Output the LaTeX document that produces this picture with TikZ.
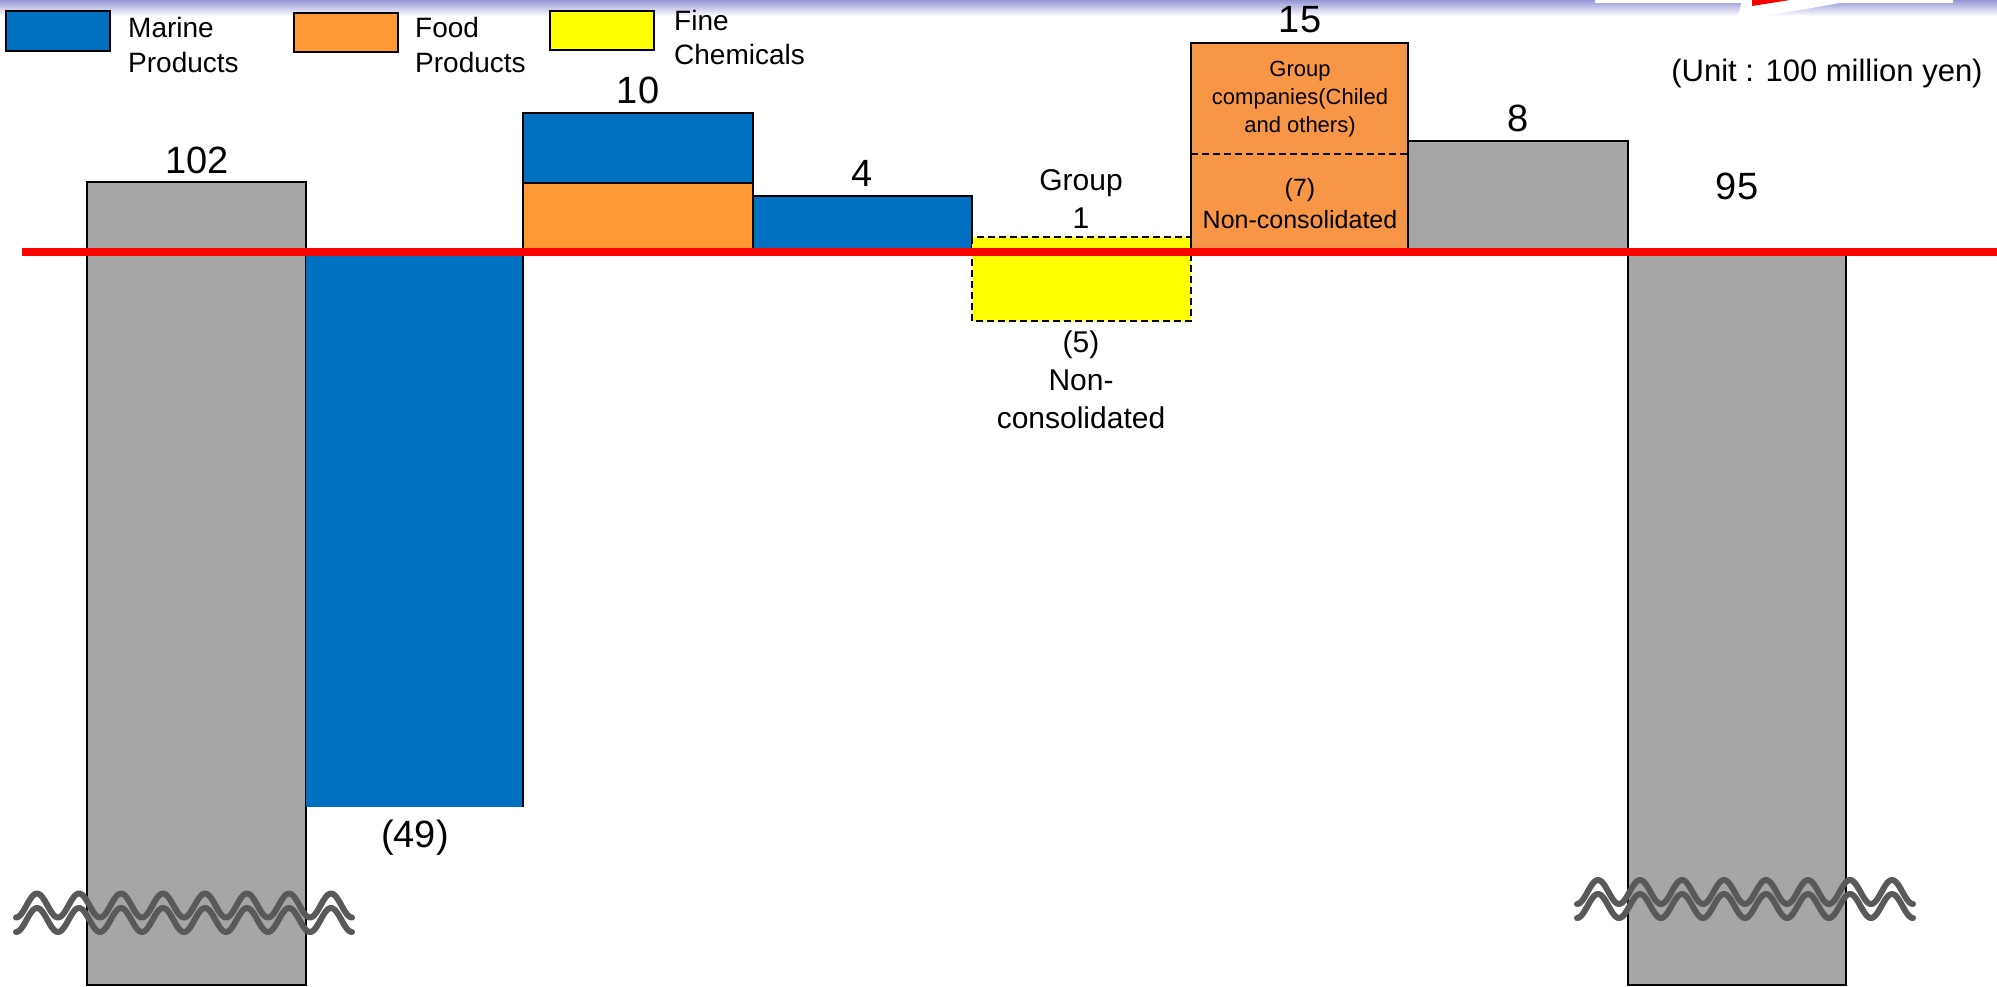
\documentclass[tikz,border=0pt]{standalone}
\usepackage{fontspec}
\setmainfont{Liberation Sans}
\definecolor{mblue}{RGB}{0,112,192}
\definecolor{forange}{RGB}{255,153,51}
\definecolor{borange}{RGB}{247,150,70}
\definecolor{fyellow}{RGB}{255,255,0}
\definecolor{bgray}{RGB}{166,166,166}
\definecolor{wavegray}{RGB}{89,89,89}
\definecolor{bandtop}{RGB}{150,150,215}
\tikzset{
  barbox/.style={draw=black, line width=2pt},
  numtxt/.style={font=\fontsize{38}{46}\selectfont, inner sep=0pt, anchor=base},
  lbltxt/.style={font=\fontsize{30}{37}\selectfont, inner sep=0pt, anchor=base},
  legtxt/.style={font=\fontsize{28}{35}\selectfont, inner sep=0pt, anchor=base west},
  smalltxt/.style={font=\fontsize{22}{28}\selectfont, inner sep=0pt, anchor=base},
  midtxt/.style={font=\fontsize{25}{32}\selectfont, inner sep=0pt, anchor=base},
  unittxt/.style={font=\fontsize{31}{38}\selectfont, inner sep=0pt, anchor=base},
  wave/.style={draw=wavegray, line width=6pt, line cap=round, line join=round}
}
\begin{document}
\begin{tikzpicture}[x={(1pt,0)}, y={(0,-1pt)}]
\useasboundingbox (0,0) rectangle (1997,987);
\fill[white] (0,0) rectangle (1997,987);
% top band
\shade[top color=bandtop, bottom color=white] (0,0) rectangle (1997,16);
\fill[white] (1595,0) rectangle (1953,3);
\fill[white] (1737,21) -- (1742,0) -- (1840,0) -- (1840,3) -- cycle;
\fill[red] (1752,0) -- (1790,0) -- (1752,6) -- cycle;

% legend
\filldraw[barbox, fill=mblue] (6,11) rectangle (110,51);
\filldraw[barbox, fill=forange] (294,13) rectangle (398,52);
\filldraw[barbox, fill=fyellow] (550,11) rectangle (654,50);
\node[legtxt] (lmar1) at (128,38) {Marine};
\node[legtxt] (lmar2) at (128,73) {Products};
\node[legtxt] (lfood1) at (415,38) {Food};
\node[legtxt] (lfood2) at (415,73) {Products};
\node[legtxt] (lfine1) at (674,31) {Fine};
\node[legtxt] (lfine2) at (674,65) {Chemicals};

% bars
\filldraw[barbox, fill=bgray] (87,182) rectangle (306,985);
\fill[mblue] (306,251) rectangle (523,807);
\draw[line width=2pt] (523,251) -- (523,807);
\filldraw[barbox, fill=mblue] (523,113) rectangle (753,183);
\filldraw[barbox, fill=forange] (523,183) rectangle (753,251);
\filldraw[barbox, fill=mblue] (753,196) rectangle (972,251);
\filldraw[fill=fyellow, draw=black, line width=2.5pt, dash pattern=on 7pt off 4pt] (972,237) rectangle (1191,321);
\filldraw[barbox, fill=borange] (1191,43) rectangle (1408,251);
\draw[line width=2.5pt, dash pattern=on 7pt off 4pt] (1191,154) -- (1408,154);
\filldraw[barbox, fill=bgray] (1408,141) rectangle (1628,251);
\filldraw[barbox, fill=bgray] (1628,251) rectangle (1846,985);

% break marks
\draw[wave] plot[domain=0:336, samples=240, smooth] ({16+\x},{905.5+12*cos(\x*8.5714)});
\draw[wave] plot[domain=0:336, samples=240, smooth] ({16+\x},{920+12*cos(\x*8.5714)});
\draw[wave] plot[domain=0:336, samples=240, smooth] ({1577+\x},{892+12*cos(\x*8.5714)});
\draw[wave] plot[domain=0:336, samples=240, smooth] ({1577+\x},{906+12*cos(\x*8.5714)});

% red base line
\draw[red, line width=8pt] (22,252) -- (1997,252);

% value labels
\node[numtxt] (v102) at (197,174) {102};
\node[numtxt] (v49) at (415,847) {(49)};
\node[numtxt] (v10) at (638,104) {10};
\node[numtxt] (v4) at (862,187) {4};
\node[numtxt] (v15) at (1300,33) {15};
\node[numtxt] (v8) at (1518,132) {8};
\node[numtxt] (v95) at (1737,200) {95};

% fine chemicals labels
\node[lbltxt] (g1a) at (1081,191) {Group};
\node[lbltxt] (g1b) at (1081,229) {1};
\node[lbltxt] (n5a) at (1081,352) {(5)};
\node[lbltxt] (n5b) at (1081,390) {Non-};
\node[lbltxt] (n5c) at (1081,428) {consolidated};

% orange box labels
\node[smalltxt] (gca) at (1300,77) {Group};
\node[smalltxt] (gcb) at (1300,105) {companies(Chiled};
\node[smalltxt] (gcc) at (1300,133) {and others)};
\node[midtxt] (n7a) at (1300,197) {(7)};
\node[midtxt] (n7b) at (1300,229) {Non-consolidated};

% unit
\node[unittxt] (unit) at (1827,82) {(Unit : 100 million yen)};
\end{tikzpicture}
\end{document}
